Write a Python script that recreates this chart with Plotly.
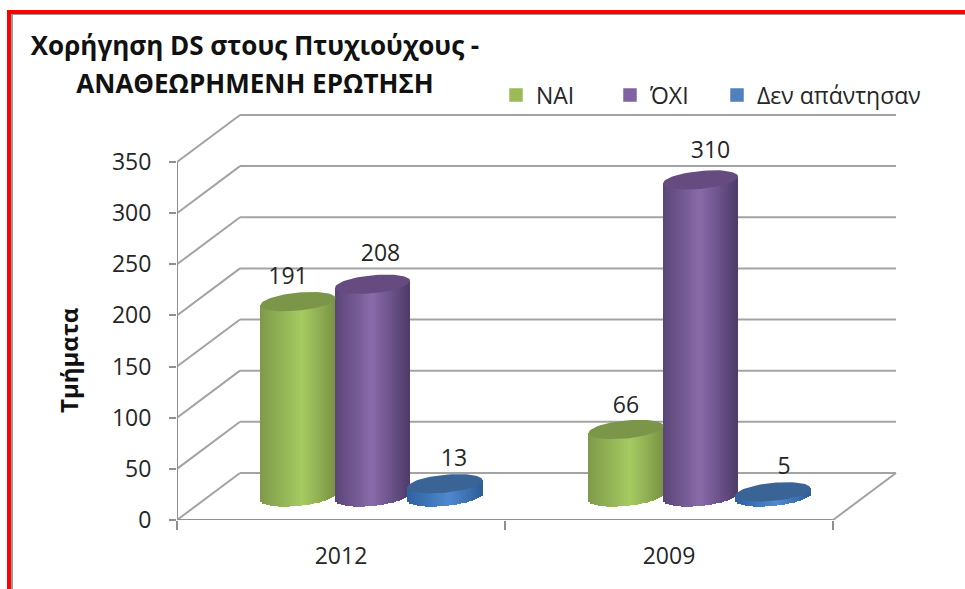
import numpy as np
import plotly.graph_objects as go

# ---- data ----
categories = ["2012", "2009"]
nai = [191, 66]
oxi = [208, 310]
den = [13, 5]
series_names = ["ΝΑΙ", "ΌΧΙ", "Δεν απάντησαν"]
y_ticks = [0, 50, 100, 150, 200, 250, 300, 350]
title_lines = ["Χορήγηση DS στους Πτυχιούχους -", "ΑΝΑΘΕΩΡΗΜΕΝΗ ΕΡΩΤΗΣΗ"]
y_title = "Τμήματα"

# ---- style / layout ----
W, H = 965, 589
L, R, T, B = 177, 900, 100, 520
PX_PER_UNIT = 358 / 350
PX_PER_CAT = 328
xr = [-0.5, -0.5 + (R - L) / PX_PER_CAT]
yr = [0, (B - T) / PX_PER_UNIT]
DEPTH_X = 63 / PX_PER_CAT
DEPTH_Y = 46
MID_X, MID_Y = DEPTH_X / 2, DEPTH_Y / 2 - 0.5
BAR_W = 75 / PX_PER_CAT
OFFSETS = [-74.5 / PX_PER_CAT, 0, 72.5 / PX_PER_CAT]
ELL_B, ELL_K = 8.8, 3.4
N = 38
GRID = "#a3a3a3"
AX = "#8f8f8f"
TXT = "#262626"
FONT = "Open Sans"
FS = 23

palette = [
    dict(l="#7f9a4a", c="#a6cb62", r="#7a9445", top="#7b9648", leg="#9bbb59", peak=.55),
    dict(l="#5b4678", c="#8a6bab", r="#4e3b69", top="#654b80", leg="#8064a2", peak=.5),
    dict(l="#2f62a0", c="#5089d0", r="#2e5e98", top="#3a6496", leg="#4f81bd", peak=.55),
]
label_dx = [[-10, 0], [8, 10], [9, 11]]
label_dy = [[23, 22], [29, 28], [23, 24]]
legend_left = [496, 610, 717]


def hex2rgb(h):
    return np.array([int(h[i:i + 2], 16) for i in (1, 3, 5)], float)


def shade(p, t):
    if t < p["peak"]:
        a, b, f = p["l"], p["c"], t / p["peak"]
    else:
        a, b, f = p["c"], p["r"], (t - p["peak"]) / (1 - p["peak"])
    v = hex2rgb(a) * (1 - f) + hex2rgb(b) * f
    return "rgb(%d,%d,%d)" % tuple(v)


def px(x):
    return (x - L) / (R - L)


def py(y):
    return (B - y) / (B - T)


fig = go.Figure()

for s, values in enumerate([nai, oxi, den]):
    p = palette[s]
    xs, bases, hs, cols = [], [], [], []
    for i, v in enumerate(values):
        cx = i + MID_X + OFFSETS[s]
        for j in range(N):
            t = (j + .5) / N
            c = 2 * t - 1
            xs.append(cx + c * BAR_W / 2)
            b0 = MID_Y + ELL_K * c - ELL_B * np.sqrt(1 - c * c)
            top = MID_Y + v + ELL_K * c
            bases.append(b0)
            hs.append(top - b0)
            cols.append(shade(p, t))
    fig.add_trace(go.Bar(x=xs, y=hs, base=bases, width=BAR_W / N * 1.15,
                         marker=dict(color=cols, line=dict(width=0)),
                         showlegend=False, hoverinfo="skip"))
    # cylinder tops
    for i, v in enumerate(values):
        cx = i + MID_X + OFFSETS[s]
        th = np.linspace(0, 2 * np.pi, 73)
        fig.add_trace(go.Scatter(
            x=cx + np.cos(th) * BAR_W / 2,
            y=MID_Y + v + ELL_K * np.cos(th) + ELL_B * np.sin(th),
            mode="lines", fill="toself", fillcolor=p["top"],
            line=dict(width=0, color=p["top"]),
            showlegend=False, hoverinfo="skip"))
    # value labels
    fig.add_trace(go.Scatter(
        x=[i + MID_X + OFFSETS[s] + label_dx[s][i] / PX_PER_CAT for i in range(2)],
        y=[MID_Y + v + label_dy[s][i] / PX_PER_UNIT for i, v in enumerate(values)],
        mode="text", text=[str(v) for v in values],
        textposition="middle center",
        textfont=dict(family=FONT, size=FS, color=TXT),
        showlegend=False, hoverinfo="skip"))
    # legend entry (one positioned legend per series)
    fig.add_trace(go.Bar(x=[None], y=[None], name=series_names[s],
                         legend="legend" if s == 0 else "legend%d" % (s + 1),
                         marker=dict(color=p["leg"], line=dict(color=p["leg"], width=1.5))))

shapes = []
xb = xr[0] + DEPTH_X
xf_end = 1.5
# gridlines: side wall and back wall
for v in y_ticks:
    shapes.append(dict(type="line", layer="below", x0=xr[0], y0=v, x1=xb, y1=v + DEPTH_Y,
                       line=dict(color=GRID, width=2)))
    shapes.append(dict(type="line", layer="below", x0=xb, y0=v + DEPTH_Y, x1=xf_end + DEPTH_X, y1=v + DEPTH_Y,
                       line=dict(color=GRID, width=2)))
# floor front and right edges, vertical axis
shapes.append(dict(type="line", layer="below", x0=xr[0], y0=0, x1=xf_end, y1=0, line=dict(color=AX, width=2)))
shapes.append(dict(type="line", layer="below", x0=xf_end, y0=0, x1=xf_end + DEPTH_X, y1=DEPTH_Y,
                   line=dict(color=GRID, width=2)))
shapes.append(dict(type="line", layer="below", x0=xr[0], y0=0, x1=xr[0], y1=y_ticks[-1], line=dict(color=AX, width=2)))

# page frame
shapes += [
    dict(type="line", xref="paper", yref="paper", x0=px(9), x1=px(9), y0=py(10), y1=py(H), line=dict(color="#ff0000", width=4)),
    dict(type="line", xref="paper", yref="paper", x0=px(7), x1=px(W), y0=py(12), y1=py(12), line=dict(color="#ff0000", width=4)),
    dict(type="line", xref="paper", yref="paper", x0=px(12), x1=px(12), y0=py(14), y1=py(H), line=dict(color="#9a9a9a", width=2)),
    dict(type="line", xref="paper", yref="paper", x0=px(11), x1=px(W), y0=py(14.5), y1=py(14.5), line=dict(color="#9a9a9a", width=1)),
]

title_text = "<br>".join('<span style="font-size:26px">%s</span>' % t for t in title_lines)


def legend_at(left):
    return dict(x=px(left), y=py(95), xanchor="left", yanchor="middle",
                itemclick=False, itemdoubleclick=False, bgcolor="rgba(0,0,0,0)",
                font=dict(family=FONT, size=FS, color=TXT))


fig.update_layout(
    width=W, height=H, autosize=False,
    margin=dict(l=L, r=W - R, t=T, b=H - B),
    paper_bgcolor="white", plot_bgcolor="rgba(0,0,0,0)",
    barmode="overlay", bargap=0,
    shapes=shapes,
    title=dict(text=title_text, x=255 / W, xanchor="center",
               y=1 - 55 / H, yanchor="top",
               font=dict(family=FONT, size=29, color="#111111", weight="bold")),
    annotations=[dict(text="<b>%s</b>" % y_title, xref="paper", yref="paper", x=px(68), y=py(361),
                      showarrow=False, textangle=-90, xanchor="center", yanchor="middle",
                      font=dict(family=FONT, size=24, color="#111111"))],
    legend=legend_at(legend_left[0]),
    legend2=legend_at(legend_left[1]),
    legend3=legend_at(legend_left[2]),
    xaxis=dict(range=xr, tickvals=list(range(len(categories))), ticktext=categories,
               ticks="", showgrid=False, zeroline=False, showline=False, ticklabelstandoff=20,
               tickfont=dict(family=FONT, size=FS, color=TXT),
               minor=dict(tickvals=[-0.5, 0.5, 1.5], ticks="outside", ticklen=9, tickwidth=2,
                          tickcolor=AX, showgrid=False)),
    yaxis=dict(range=yr, tickvals=y_ticks, ticks="outside", ticklen=7, tickwidth=2, tickcolor=AX,
               showgrid=False, zeroline=False, showline=False, ticklabelstandoff=13,
               tickfont=dict(family=FONT, size=FS, color=TXT)),
)

fig.write_html("out.html", config={"displayModeBar": False},
               post_script="document.body.style.margin='0';document.body.style.overflow='hidden';")
